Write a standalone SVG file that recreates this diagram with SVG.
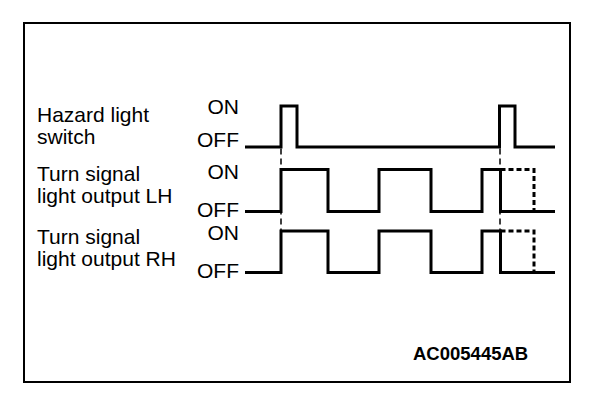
<svg xmlns="http://www.w3.org/2000/svg" width="608" height="404" viewBox="0 0 608 404">
<style>
.lbl{font-family:"Liberation Sans",Arial,sans-serif;font-size:21px;fill:#000}
.st{font-family:"Liberation Sans",Arial,sans-serif;font-size:21px;fill:#000;text-anchor:end}
.wave{fill:none;stroke:#000;stroke-width:3;stroke-linejoin:miter;stroke-linecap:butt}
.dash{fill:none;stroke:#000;stroke-width:3;stroke-dasharray:5 3}
.thin{fill:none;stroke:#000;stroke-width:1.5;stroke-dasharray:6 4}
</style>
<rect width="608" height="404" fill="#fff"/>
<rect x="24" y="23" width="546" height="359" fill="none" stroke="#000" stroke-width="2"/>
<g id="hazard">
<text class="lbl" x="37" y="122">Hazard light</text>
<text class="lbl" x="37" y="143.5">switch</text>
<text class="st" x="239" y="113.5">ON</text>
<text class="st" x="239" y="146.5">OFF</text>
<path class="wave" d="M245 147 H281 V106 H297 V147 H499.5 V106 H515 V147 H555"/>
</g>
<g id="lh">
<text class="lbl" x="37" y="181">Turn signal</text>
<text class="lbl" x="37" y="203">light output LH</text>
<text class="st" x="239" y="178.5">ON</text>
<text class="st" x="239" y="216.5">OFF</text>
<path class="wave" d="M245 211.5 H281 V169.5 H328 V211.5 H379 V169.5 H431 V211.5 H482 V169.5 H500.5 V211.5 H555"/>
<path class="dash" d="M500.5 169.5 H534 V211.5"/>
</g>
<g id="rh">
<text class="lbl" x="37" y="243.5">Turn signal</text>
<text class="lbl" x="37" y="266">light output RH</text>
<text class="st" x="239" y="240">ON</text>
<text class="st" x="239" y="278">OFF</text>
<path class="wave" d="M245 272.5 H281 V231 H328 V272.5 H379 V231 H431 V272.5 H482 V231 H500.5 V272.5 H555"/>
<path class="dash" d="M500.5 231 H534 V272.5"/>
</g>
<g id="connectors">
<path class="thin" d="M281 148.5 V231"/>
<path class="thin" d="M500 148.5 V231"/>
</g>
<text x="413" y="360" font-family="'Liberation Sans',Arial,sans-serif" font-size="18.5" font-weight="bold">AC005445AB</text>
</svg>
